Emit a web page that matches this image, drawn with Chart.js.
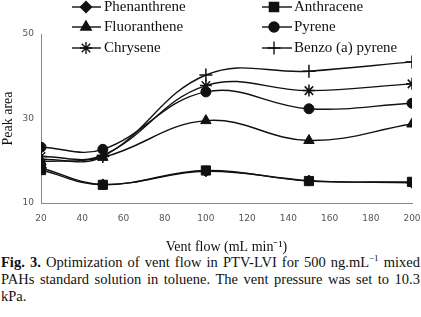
<!DOCTYPE html>
<html>
<head>
<meta charset="utf-8">
<script src="https://cdn.jsdelivr.net/npm/chart.js@4/dist/chart.umd.min.js"></script>
<style>
  html, body { margin: 0; padding: 0; background: #fff; }
  #wrap { position: relative; width: 421px; height: 256px; }
  .caption { font-family: "Liberation Serif", "Times New Roman", serif; font-size: 14.5px; line-height: 17px; color: #111; width: 419px; padding: 0 1px; margin-top: -2px; }
  .caption div { text-align: justify; text-align-last: justify; white-space: nowrap; }
  .caption div.last { text-align-last: left; }
</style>
</head>
<body>
<div id="wrap"><canvas id="chart" width="421" height="256"></canvas></div>
<div class="caption">
  <div><b>Fig. 3.</b> Optimization of vent flow in PTV-LVI for 500 ng.mL<sup style="font-size:9px;line-height:0">&minus;1</sup> mixed</div>
  <div>PAHs standard solution in toluene. The vent pressure was set to 10.3</div>
  <div class="last">kPa.</div>
</div>
<script>
// vent flow (mL/min) and peak areas
const ventFlow = [20, 50, 100, 150, 200];
const phenanthrene = [18.3, 14.4, 17.5, 15.3, 14.8];
const anthracene = [17.8, 14.3, 17.7, 15.2, 15.0];
const fluoranthene = [19.8, 20.8, 29.5, 24.8, 28.7];
const pyrene = [23.2, 22.7, 36.3, 32.3, 33.6];
const chrysene = [21.0, 21.3, 37.8, 36.6, 38.2];
const benzoPyrene = [20.3, 21.0, 40.3, 41.2, 43.4];

const seriesNames = ['Phenanthrene', 'Anthracene', 'Fluoranthene', 'Pyrene', 'Chrysene', 'Benzo (a) pyrene'];
const seriesValues = [phenanthrene, anthracene, fluoranthene, pyrene, chrysene, benzoPyrene];
const seriesMarkers = ['rectRot', 'rect', 'triangle', 'circle', 'star', 'cross'];
const markerSizes = [5.5, 6.5, 6, 5, 6, 6.5];
const yTicks = [10, 30, 50];

const datasets = seriesNames.map((name, i) => ({
    label: name,
    data: ventFlow.map((x, j) => ({ x: x, y: seriesValues[i][j] })),
    borderColor: '#111',
    backgroundColor: '#111',
    pointBackgroundColor: '#111',
    pointBorderColor: '#111',
    borderWidth: 1.4,
    pointStyle: seriesMarkers[i],
    pointRadius: markerSizes[i],
    pointBorderWidth: (seriesMarkers[i] === 'star' || seriesMarkers[i] === 'cross') ? 1.5 : 1,
    tension: 0.4,
    fill: false
}));

// two-column legend drawn over the top of the plot, like the original
const legendPlugin = {
    id: 'twoColLegend',
    afterDraw(chart) {
        const ctx = chart.ctx;
        const cols = [{ l0: 72, l1: 101, m: 86, t: 104 }, { l0: 262, l1: 292, m: 274, t: 294 }];
        const rows = [7, 27, 48];
        ctx.save();
        chart.data.datasets.forEach((ds, i) => {
            const c = cols[i % 2];
            const y = rows[Math.floor(i / 2)];
            ctx.strokeStyle = '#111';
            ctx.lineWidth = 1.4;
            ctx.beginPath();
            ctx.moveTo(c.l0, y);
            ctx.lineTo(c.l1, y);
            ctx.stroke();
            ctx.fillStyle = '#111';
            Chart.helpers.drawPoint(ctx, {
                pointStyle: ds.pointStyle,
                radius: ds.pointRadius,
                borderWidth: ds.pointBorderWidth,
                rotation: 0
            }, c.m, y);
            ctx.fillStyle = '#111';
            ctx.font = '15px "Liberation Serif", serif';
            ctx.textBaseline = 'middle';
            ctx.textAlign = 'left';
            ctx.fillText(ds.label, c.t, y);
        });
        ctx.restore();
    }
};

new Chart(document.getElementById('chart'), {
    type: 'line',
    data: { datasets: datasets },
    options: {
        responsive: false,
        animation: false,
        layout: { padding: { top: 34, right: 9, left: 0, bottom: 0 } },
        plugins: { legend: { display: false }, tooltip: { enabled: false } },
        scales: {
            x: {
                type: 'linear',
                min: 20,
                max: 200,
                border: { color: '#888', width: 1 },
                grid: { display: false, drawOnChartArea: false, drawTicks: true, tickLength: 4, tickColor: '#888' },
                ticks: { stepSize: 20, color: '#555', font: { family: 'DejaVu Sans', size: 9 }, padding: 6 },
                title: {
                    display: true,
                    text: 'Vent flow (mL min\u207B\u00B9)',
                    color: '#111',
                    font: { family: 'Liberation Serif', size: 14 },
                    padding: { top: 4, bottom: 0 }
                },
                afterFit(scale) {
                    scale.height = 53;
                    scale.paddingRight = 0;
                    scale.paddingLeft = 0;
                }
            },
            y: {
                min: 10,
                max: 50,
                border: { color: '#888', width: 1 },
                grid: { display: false, drawOnChartArea: false, drawTicks: true, tickLength: 4, tickColor: '#888' },
                afterBuildTicks(scale) { scale.ticks = yTicks.map(v => ({ value: v })); },
                ticks: { color: '#555', font: { family: 'DejaVu Sans', size: 9 }, padding: 3 },
                title: {
                    display: true,
                    text: 'Peak area',
                    color: '#111',
                    font: { family: 'Liberation Serif', size: 14 },
                    padding: { top: 0, bottom: 2 }
                },
                afterFit(scale) {
                    scale.width = 41;
                    scale.paddingTop = 0;
                    scale.paddingBottom = 0;
                }
            }
        }
    },
    plugins: [legendPlugin]
});
</script>
</body>
</html>
